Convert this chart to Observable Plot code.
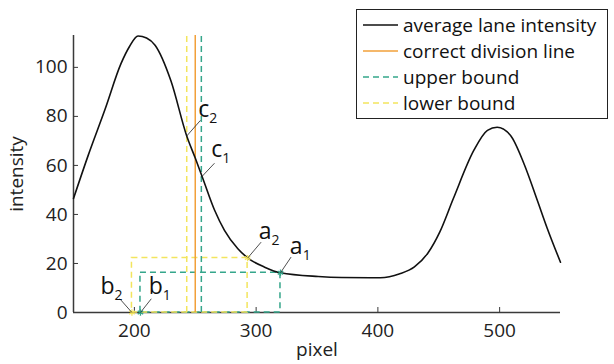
<!DOCTYPE html>
<html><head><meta charset="utf-8">
<script src="https://cdn.jsdelivr.net/npm/d3@7"></script>
<script src="https://cdn.jsdelivr.net/npm/@observablehq/plot@0.6"></script>
<style>
body{margin:0;background:#fff;}
#wrap{position:relative;width:614px;height:364px;font-family:"Open Sans",sans-serif;}
#legend{position:absolute;left:356px;top:9px;width:252px;height:110px;box-sizing:border-box;border:1px solid #222;background:#fff;}
.row{position:absolute;left:0;height:26px;display:flex;align-items:center;font-size:19px;color:#111;white-space:nowrap;}
.row svg{margin-left:6px;margin-right:5px;}
</style></head><body>
<div id="wrap"><div id="chart"></div><div id="legend"></div></div>
<script>
// average lane intensity curve (pixel, intensity)
const pixel = [150,162,176,189,196,203,210,217,230,243,250,256,266,274,285,293,307,320,351,370,394,402,418,430,441,451,462,479,490,498,509,520,531,539,550];
const intensity = [46.5,64,83,101.5,108.5,112.8,112,109,94.5,72,63,55,41.6,33.5,26,22.3,18.5,16.2,14.7,14.3,14.2,14.2,15.8,18.6,24.2,33,46.5,66.3,74.3,75.6,72.2,60.7,45.7,34.5,20.5];

// vertical guide lines
const guideName = ["lower bound", "correct division line", "upper bound"];
const guideX = [243, 250, 255];

// bound rectangles (b .. a at level)
const boundName = ["upper bound", "lower bound"];
const boundB = [205, 198];
const boundA = [320, 293];
const boundLevel = [16.2, 22.2];

// annotations
const annoName = ["c1", "c2", "a1", "a2", "b1", "b2"];
const annoPx = [255, 243, 320, 293, 205, 198];
const annoPy = [55.2, 72, 16.2, 22.2, 0, 0];
const annoEx = [265.8, 254.3, 328.7, 304.1, 213.9, 188];
const annoEy = [60.9, 78.4, 22.6, 28.7, 5.6, 5.6];
const annoLx = [263.1, 252.4, 327.7, 302.2, 211.8, 172.2];
const annoLy = [63.4, 79.7, 24.0, 30.1, 7.6, 7.6];

// legend
const legendName = ["average lane intensity", "correct division line", "upper bound", "lower bound"];
const colorOf = {"average lane intensity": "#111111", "correct division line": "#f2a03a", "upper bound": "#35a68b", "lower bound": "#f3e55e"};
const dashOf = {"average lane intensity": null, "correct division line": null, "upper bound": "6,4", "lower bound": "6,4"};

const xTicks = [200, 300, 400, 500];
const yTicks = [0, 20, 40, 60, 80, 100];

const curve = pixel.map((p, i) => ({x: p, y: intensity[i]}));
const guides = guideName.map((n, i) => ({name: n, x: guideX[i]}));
const bounds = boundName.map((n, i) => ({name: n, b: boundB[i], a: boundA[i], level: boundLevel[i]}));
const markers = bounds.flatMap(d => [{name: d.name, x: d.a, y: d.level}, {name: d.name, x: d.b, y: 0}]);
const annos = annoName.map((n, i) => ({name: n, px: annoPx[i], py: annoPy[i], ex: annoEx[i], ey: annoEy[i], lx: annoLx[i], ly: annoLy[i]}));

const axisColor = "#3a3a3a";
const guideMarks = guides.map(g => Plot.ruleX([g], {x: "x", y1: 0, y2: 113, stroke: colorOf[g.name], strokeWidth: 1.5, strokeDasharray: dashOf[g.name]}));
const boundMarks = bounds.map(b => Plot.rect([b], {x1: "b", x2: "a", y1: 0, y2: "level", fill: "none", stroke: colorOf[b.name], strokeWidth: 1.5, strokeDasharray: dashOf[b.name]}));

const chart = Plot.plot({
  width: 614, height: 364,
  marginLeft: 73, marginRight: 54, marginTop: 35, marginBottom: 52,
  style: {fontFamily: "Open Sans, sans-serif", background: "#fff"},
  x: {domain: [150, 550]},
  y: {domain: [0, 113]},
  marks: [
    Plot.ruleY([0], {stroke: axisColor, strokeWidth: 1.5}),
    Plot.ruleX([150], {stroke: axisColor, strokeWidth: 1.5}),
    Plot.axisX({ticks: xTicks, tickSize: -5, tickPadding: 15.5, fontSize: 19, color: "#222", stroke: axisColor, label: null}),
    Plot.axisY({ticks: yTicks, tickSize: -5, tickPadding: 11, fontSize: 19, color: "#222", stroke: axisColor, label: null}),
    Plot.text(["pixel"], {frameAnchor: "bottom", lineAnchor: "bottom", dy: 43, fontSize: 19, fill: "#222"}),
    Plot.text(["intensity"], {frameAnchor: "left", textAnchor: "middle", rotate: -90, dx: -57, fontSize: 19, fill: "#222"}),
    ...boundMarks,
    ...guideMarks,
    Plot.line(curve, {x: "x", y: "y", curve: "monotone-x", stroke: "#111", strokeWidth: 1.6}),
    Plot.dot(markers, {x: "x", y: "y", symbol: "asterisk", r: 3, stroke: d => colorOf[d.name], strokeWidth: 1.3}),
    Plot.link(annos, {x1: "px", y1: "py", x2: "ex", y2: "ey", stroke: "#222", strokeWidth: 0.8}),
    Plot.text(annos, {x: "lx", y: "ly", text: "name", textAnchor: "start", lineAnchor: "bottom", fontSize: 23, fill: "#111"})
  ]
});
document.getElementById("chart").appendChild(chart);
const annoSet = new Set(annoName);
d3.select(chart).selectAll("text").each(function() {
  const t = this.textContent;
  if (!annoSet.has(t)) return;
  this.textContent = t[0];
  d3.select(this).append("tspan").attr("dy", 6).attr("font-size", 14).text(t.slice(1));
});

const leg = d3.select("#legend");
legendName.forEach((n, i) => {
  const row = leg.append("div").attr("class", "row").style("top", (2 + 26 * i) + "px");
  const s = row.append("svg").attr("width", 35).attr("height", 4);
  s.append("line").attr("x1", 0).attr("x2", 35).attr("y1", 2).attr("y2", 2)
    .attr("stroke", colorOf[n]).attr("stroke-width", 1.5).attr("stroke-dasharray", dashOf[n]);
  row.append("span").text(n);
});
</script>
</body></html>
